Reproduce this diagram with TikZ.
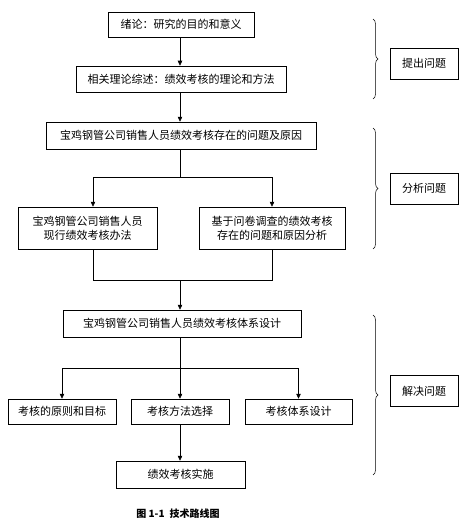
\documentclass[tikz,border=0pt]{standalone}
\usepackage{fontspec}
\newfontfamily\cjk{Noto Sans CJK SC}
\usetikzlibrary{arrows.meta,positioning,shadows,decorations.pathreplacing}
\tikzset{
    stage/.style={rectangle, draw=black, fill=white, line width=0.5pt, inner sep=0pt, minimum height=25pt, align=center, font=\cjk\fontsize{11}{14}\selectfont, drop shadow={shadow xshift=0.9pt, shadow yshift=-0.9pt, fill=black, opacity=1}},
    phase/.style={stage, minimum width=68pt, minimum height=31pt},
    flow/.style={line width=0.6pt, -{Triangle[length=5pt, width=4.5pt]}},
    link/.style={line width=0.6pt},
    bracket/.style={line width=0.5pt, decorate, decoration={brace, amplitude=5pt}},
}
\begin{document}
\begin{tikzpicture}[x=1pt, y=-1pt]
    \useasboundingbox (0,0) rectangle (472,524);
    % main flow
    \node[stage, minimum width=146pt] (intro) at (181,24.5) {绪论：研究的目的和意义};
    \node[stage, minimum width=210pt, minimum height=26pt] (theory) at (181,79) {相关理论综述：绩效考核的理论和方法};
    \node[stage, minimum width=270pt, minimum height=27pt] (issue) at (181,135.5) {宝鸡钢管公司销售人员绩效考核存在的问题及原因};
    \node[stage, minimum width=139pt, minimum height=42pt] (current) at (87.5,228) {宝鸡钢管公司销售人员\\现行绩效考核办法};
    \node[stage, minimum width=146pt, minimum height=42pt] (survey) at (272,228) {基于问卷调查的绩效考核\\存在的问题和原因分析};
    \node[stage, minimum width=238pt, minimum height=27pt] (design) at (182,323.5) {宝鸡钢管公司销售人员绩效考核体系设计};
    \foreach \x/\name/\txt/\w in {62/principle/考核的原则和目标/108, 180/method/考核方法选择/98, 298.5/system/考核体系设计/107} {
        \node[stage, minimum width=\w pt] (\name) at (\x,411.5) {\txt};
    }
    \node[stage, minimum width=129pt, minimum height=27pt] (apply) at (180.5,474.5) {绩效考核实施};

    \draw[flow] (intro.south -| 180,0) -- (theory.north -| 180,0);
    \draw[flow] (theory.south -| 180,0) -- (issue.north -| 180,0);
    \coordinate (fork) at (180,177);
    \draw[link] (issue.south -| fork) -- (fork);
    \draw[flow] (fork) -| ([xshift=5.5pt]current.north);
    \draw[flow] (fork) -| (survey.north);
    \coordinate (join) at (180,280);
    \draw[link] ([xshift=5.5pt]current.south) |- (join);
    \draw[link] (survey.south) |- (join);
    \draw[flow] (join) -- (design.north -| join);
    \coordinate (fork2) at (180,368);
    \draw[link] (design.south -| fork2) -- (fork2);
    \draw[flow] (fork2) -| (principle.north);
    \draw[flow] (fork2) -- (method.north);
    \draw[flow] (fork2) -| (system.north);
    \draw[flow] (method.south -| fork2) -- (apply.north -| fork2);

    % stages on the right
    \foreach \ya/\yb/\ym/\n/\label in {19/99/63.5/1/提出问题, 128/249/188.5/2/分析问题, 315/475/391/3/解决问题} {
        \draw[bracket] (373,\ya) -- (373,\yb);
        \node[phase] (phase\n) at (424,\ym) {\label};
    }

    \node[font=\cjk\bfseries\fontsize{10}{12}\selectfont] (caption) at (178,514) {图 1-1\enspace 技术路线图};
\end{tikzpicture}
\end{document}
